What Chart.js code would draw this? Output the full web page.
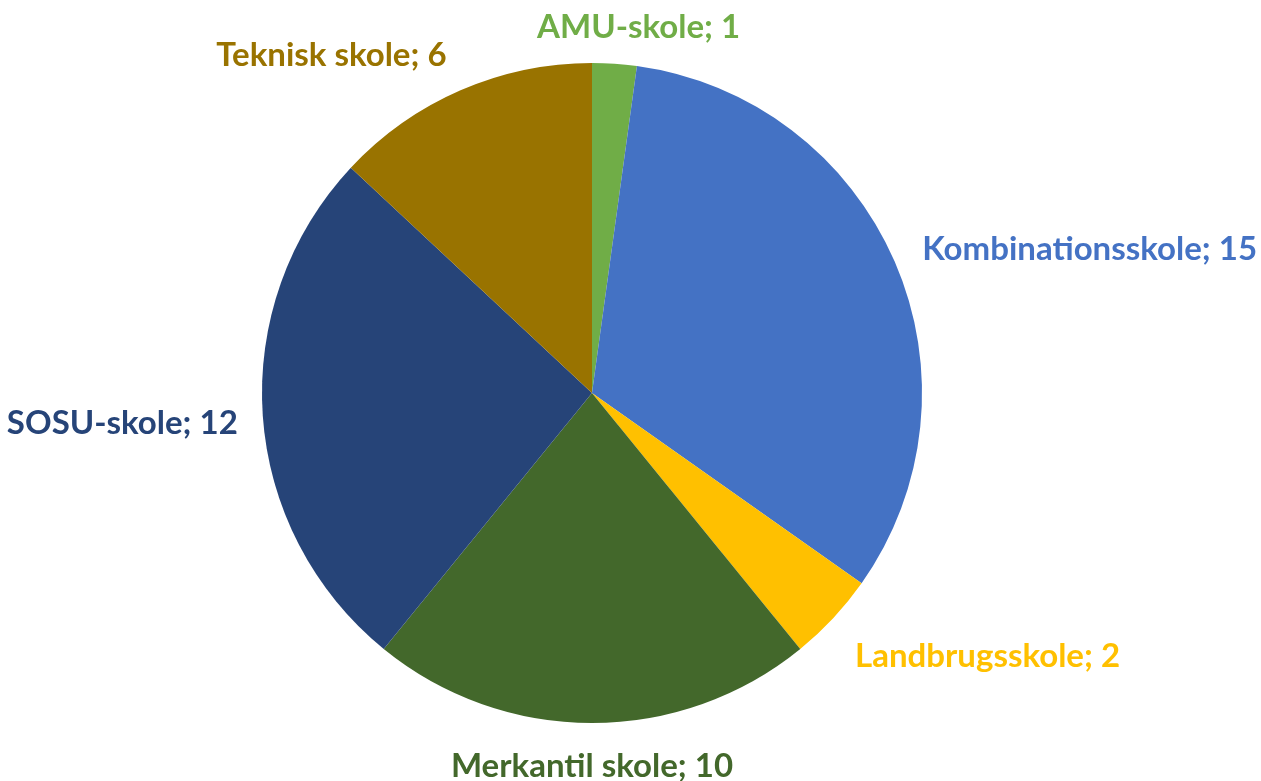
<!DOCTYPE html>
<html>
<head>
<meta charset="utf-8">
<script src="https://cdn.jsdelivr.net/npm/chart.js@4"></script>
<style>
  html, body { margin: 0; padding: 0; background: #fff; }
  #wrap { width: 1261px; height: 781px; position: relative; }
</style>
</head>
<body>
<div id="wrap"><canvas id="pieChart"></canvas></div>
<script>
const schoolTypes = ['AMU-skole', 'Kombinationsskole', 'Landbrugsskole', 'Merkantil skole', 'SOSU-skole', 'Teknisk skole'];
const schoolCounts = [1, 15, 2, 10, 12, 6];
const sliceColors = ['#70AD47', '#4472C4', '#FFC000', '#43682B', '#264478', '#997300'];

// small hand tweaks so labels sit where Excel put them
const labelNudge = [[22, -6], [0, 0], [0, 18], [0, 13], [5, 6], [-2, -7]];

// draws "Name; value" outside each slice, coloured like the slice
const outsideLabels = {
    id: 'outsideLabels',
    afterDatasetsDraw(chart) {
        const c = chart.ctx;
        const meta = chart.getDatasetMeta(0);
        c.save();
        c.font = 'bold 33px Lato';
        c.textBaseline = 'middle';
        meta.data.forEach((arc, i) => {
            const p = arc.getProps(['x', 'y', 'startAngle', 'endAngle', 'outerRadius'], true);
            const mid = (p.startAngle + p.endAngle) / 2;
            const r = p.outerRadius + 30;
            const x = p.x + Math.cos(mid) * r + labelNudge[i][0];
            const y = p.y + Math.sin(mid) * r + labelNudge[i][1];
            const dx = Math.cos(mid);
            if (Math.abs(dx) < 0.15) c.textAlign = 'center';
            else c.textAlign = dx > 0 ? 'left' : 'right';
            c.fillStyle = sliceColors[i];
            c.fillText(schoolTypes[i] + '; ' + schoolCounts[i], x, y);
        });
        c.restore();
    }
};

const ctx = document.getElementById('pieChart').getContext('2d');
const pieChart = new Chart(ctx, {
    type: 'pie',
    data: {
        labels: schoolTypes,
        datasets: [{
            data: schoolCounts,
            backgroundColor: sliceColors,
            borderWidth: 0
        }]
    },
    options: {
        responsive: true,
        maintainAspectRatio: false,
        animation: false,
        layout: {
            padding: { top: 63, bottom: 58, left: 200, right: 277 }
        },
        plugins: {
            legend: { display: false },
            tooltip: { enabled: false }
        }
    },
    plugins: [outsideLabels]
});
</script>
</body>
</html>
